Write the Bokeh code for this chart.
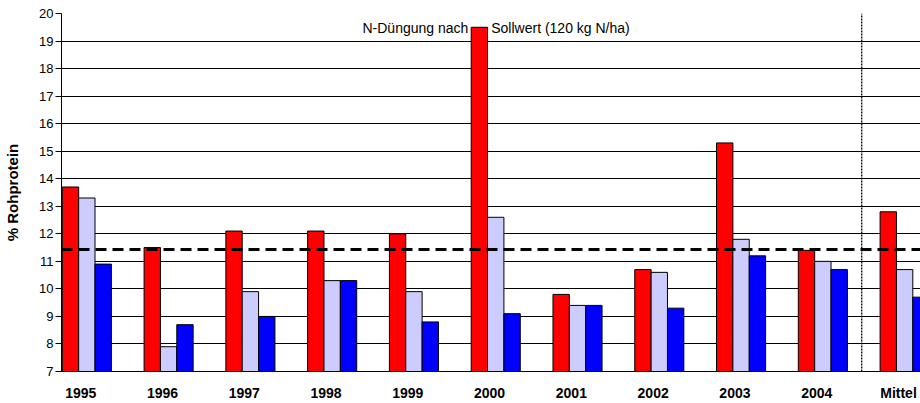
import math
from bokeh.plotting import figure
from bokeh.models import Range1d, FixedTicker, Span, ColumnDataSource
from bokeh.embed import file_html
from bokeh.resources import INLINE
from bokeh.core.properties import value

# ---- data ----
categories = ["1995", "1996", "1997", "1998", "1999", "2000",
              "2001", "2002", "2003", "2004", "Mittel"]
series_a = [13.7, 11.5, 12.1, 12.1, 12.0, 19.5, 9.8, 10.7, 15.3, 11.4, 12.8]
series_b = [13.3, 7.9, 9.9, 10.3, 9.9, 12.6, 9.4, 10.6, 11.8, 11.0, 10.7]
series_c = [10.9, 8.7, 9.0, 10.3, 8.8, 9.1, 9.4, 9.3, 11.2, 10.7, 9.7]
sollwert_level = 11.43
y_ticks = list(range(7, 21))
annotation_left = "N-Düngung nach"
annotation_right = "Sollwert (120 kg N/ha)"
y_label = "% Rohprotein"

FONT = "Liberation Sans"

xs = list(range(len(categories)))
p = figure(width=920, height=403, output_backend="svg", toolbar_location=None,
           x_range=Range1d(-0.2348, 10.269), y_range=Range1d(7, 20),
           min_border_left=61, min_border_right=0, min_border_top=13,
           min_border_bottom=31)
p.outline_line_color = None
p.background_fill_color = "white"
p.border_fill_color = "white"

# grid
p.xgrid.grid_line_color = None
p.ygrid.grid_line_color = "black"
p.ygrid.grid_line_width = 1
p.ygrid.ticker = FixedTicker(ticks=y_ticks)

# y axis
p.yaxis.ticker = FixedTicker(ticks=y_ticks)
p.yaxis.major_tick_out = 6
p.yaxis.major_tick_in = 0
p.yaxis.minor_tick_line_color = None
p.yaxis.axis_line_color = "black"
p.yaxis.major_tick_line_color = "black"
p.yaxis.major_label_text_font = FONT
p.yaxis.major_label_text_font_size = "13px"
p.yaxis.major_label_text_color = "black"
p.yaxis.major_label_standoff = 2
p.yaxis.axis_label = y_label
p.yaxis.axis_label_text_font = FONT
p.yaxis.axis_label_text_font_style = "bold"
p.yaxis.axis_label_text_font_size = "15px"
p.yaxis.axis_label_text_color = "black"
p.yaxis.axis_label_standoff = 15

# x axis
p.xaxis.ticker = FixedTicker(ticks=xs)
p.xaxis.major_label_overrides = {i: c for i, c in enumerate(categories)}
p.xaxis.major_tick_out = 0
p.xaxis.major_tick_in = 0
p.xaxis.minor_tick_line_color = None
p.xaxis.axis_line_color = "black"
p.xaxis.major_label_text_font = FONT
p.xaxis.major_label_text_font_style = "bold"
p.xaxis.major_label_text_font_size = "14px"
p.xaxis.major_label_text_color = "black"
p.xaxis.major_label_standoff = 13

# annotation text (behind bars)
p.text(x=[4.74], y=[19.47], text=[annotation_left], text_font=value(FONT),
       text_font_size="14px", text_align="right", text_baseline="alphabetic",
       text_color="black")
p.text(x=[5.02], y=[19.47], text=[annotation_right], text_font=value(FONT),
       text_font_size="14px", text_align="left", text_baseline="alphabetic",
       text_color="black")

# bars
bw = 0.2
offsets = [-0.125, 0.075, 0.275]
colors = ["#FF0000", "#CCCCFF", "#0000FF"]
for vals, off, col in zip([series_a, series_b, series_c], offsets, colors):
    src = ColumnDataSource(dict(x=[x + off for x in xs], top=vals))
    p.vbar(x="x", top="top", bottom=7, width=bw, source=src,
           fill_color=col, line_color="black", line_width=1)

# separator between years and mean
sep_x = (xs[-2] + xs[-1]) / 2 + 0.05
p.segment(x0=[sep_x], y0=[7], x1=[sep_x], y1=[20], line_color="black",
          line_width=1.3, line_dash="2 1")

# target level
p.add_layout(Span(location=sollwert_level, dimension="width", line_color="black",
                  line_width=3, line_dash="11 6"))

open("out.html", "w").write(file_html(p, INLINE))
